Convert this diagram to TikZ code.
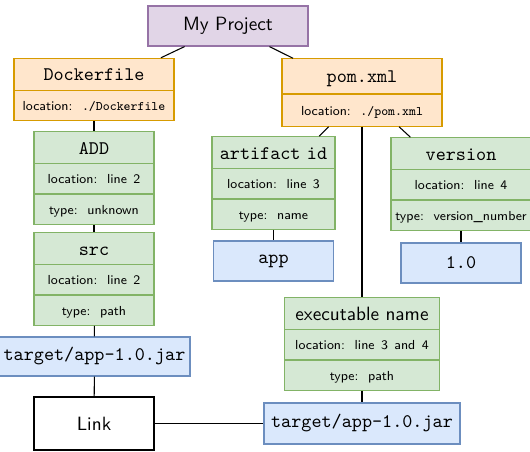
\documentclass[tikz,border=0pt]{standalone}
\usepackage{tikz}
\usetikzlibrary{shapes.multipart}
\definecolor{projfill}{HTML}{E1D5E7}
\definecolor{projline}{HTML}{9673A6}
\definecolor{filefill}{HTML}{FFE6CC}
\definecolor{fileline}{HTML}{D79B00}
\definecolor{keyfill}{HTML}{D5E8D4}
\definecolor{keyline}{HTML}{82B366}
\definecolor{valfill}{HTML}{DAE8FC}
\definecolor{valline}{HTML}{6C8EBF}
% struts fixing the height of each part of a split box
\newcommand{\hstrut}{\rule[-4.8pt]{0pt}{16.1pt}}
\newcommand{\lstrut}{\rule[-5pt]{0pt}{15.1pt}}
\newcommand{\sm}{\fontsize{6.8}{8.2}\selectfont}

\begin{document}
\begin{tikzpicture}[x=0.52pt,y=-0.52pt,
  box/.style={draw,line width=0.6pt,inner sep=0pt,align=center,font=\sffamily},
  projbox/.style={box,fill=projfill,draw=projline},
  filebox/.style={box,fill=filefill,draw=fileline,rectangle split,rectangle split parts=2},
  keybox/.style={box,fill=keyfill,draw=keyline,rectangle split,rectangle split parts=3},
  valbox/.style={box,fill=valfill,draw=valline,minimum height=#1},
  valbox/.default=20.8pt,
  wire/.style={line width=0.55pt}]
  \useasboundingbox (0,0) rectangle (530,451);

  \node[projbox,minimum width=83.2pt,minimum height=20.8pt] (proj) at (228,26) {My Project};

  % Dockerfile side
  \node[filebox,text width=83.2pt] (docker) at (94,89.5)
    {\hstrut\texttt{Dockerfile}\nodepart{two}\lstrut\sm location: \texttt{./Dockerfile}};
  \node[keybox,text width=62.4pt] (add) at (94,178)
    {\hstrut\texttt{ADD}\nodepart{two}\lstrut\sm location: line 2\nodepart{three}\lstrut\sm type: unknown};
  \node[keybox,text width=62.4pt] (src) at (94,279)
    {\hstrut\texttt{src}\nodepart{two}\lstrut\sm location: line 2\nodepart{three}\lstrut\sm type: path};
  \node[valbox=20.3pt,minimum width=99.3pt] (jarl) at (94.5,356.5) {\texttt{target/app-1.0.jar}};
  \node[box,fill=white,draw=black,minimum width=62.4pt,minimum height=27.6pt] (lnk) at (94,423.5) {Link};

  % pom.xml side
  \node[filebox,text width=83.2pt] (pom) at (362,92.5)
    {\rule[-5.6pt]{0pt}{17.7pt}\texttt{pom.xml}\nodepart{two}\rule[-5.5pt]{0pt}{16.1pt}\sm location: \texttt{./pom.xml}};
  \node[keybox,text width=64pt] (art) at (273.5,183)
    {\hstrut\texttt{artifact id}\nodepart{two}\lstrut\sm location: line 3\nodepart{three}\lstrut\sm type: name};
  \node[valbox,minimum width=62.4pt] (app) at (273.5,261) {\texttt{app}};
  \node[keybox,text width=72.8pt] (ver) at (461,184)
    {\hstrut\texttt{version}\nodepart{two}\lstrut\sm location: line 4\nodepart{three}\lstrut\sm\mbox{type: version\_number}};
  \node[valbox,minimum width=62.4pt] (one) at (461,263) {\texttt{1.0}};
  \node[keybox,text width=80.6pt] (exe) at (362,344)
    {\hstrut executable name\nodepart{two}\lstrut\sm location: line 3 and 4\nodepart{three}\lstrut\sm type: path};
  \node[valbox=21.3pt,minimum width=101.9pt] (jarr) at (362,423.5) {\texttt{target/app-1.0.jar}};

  \draw[wire] (proj) -- (docker);
  \draw[wire] (proj) -- (pom);
  \draw[wire] (docker) -- (add);
  \draw[wire] (add) -- (src);
  \draw[wire] (src) -- (jarl);
  \draw[wire] (jarl) -- (lnk);
  \draw[wire] (lnk) -- (jarr);
  \draw[wire] (pom) -- (art);
  \draw[wire] (pom) -- (ver);
  \draw[wire] (pom) -- (exe);
  \draw[wire] (art) -- (app);
  \draw[wire] (ver) -- (one);
  \draw[wire] (exe) -- (jarr);
\end{tikzpicture}
\end{document}
